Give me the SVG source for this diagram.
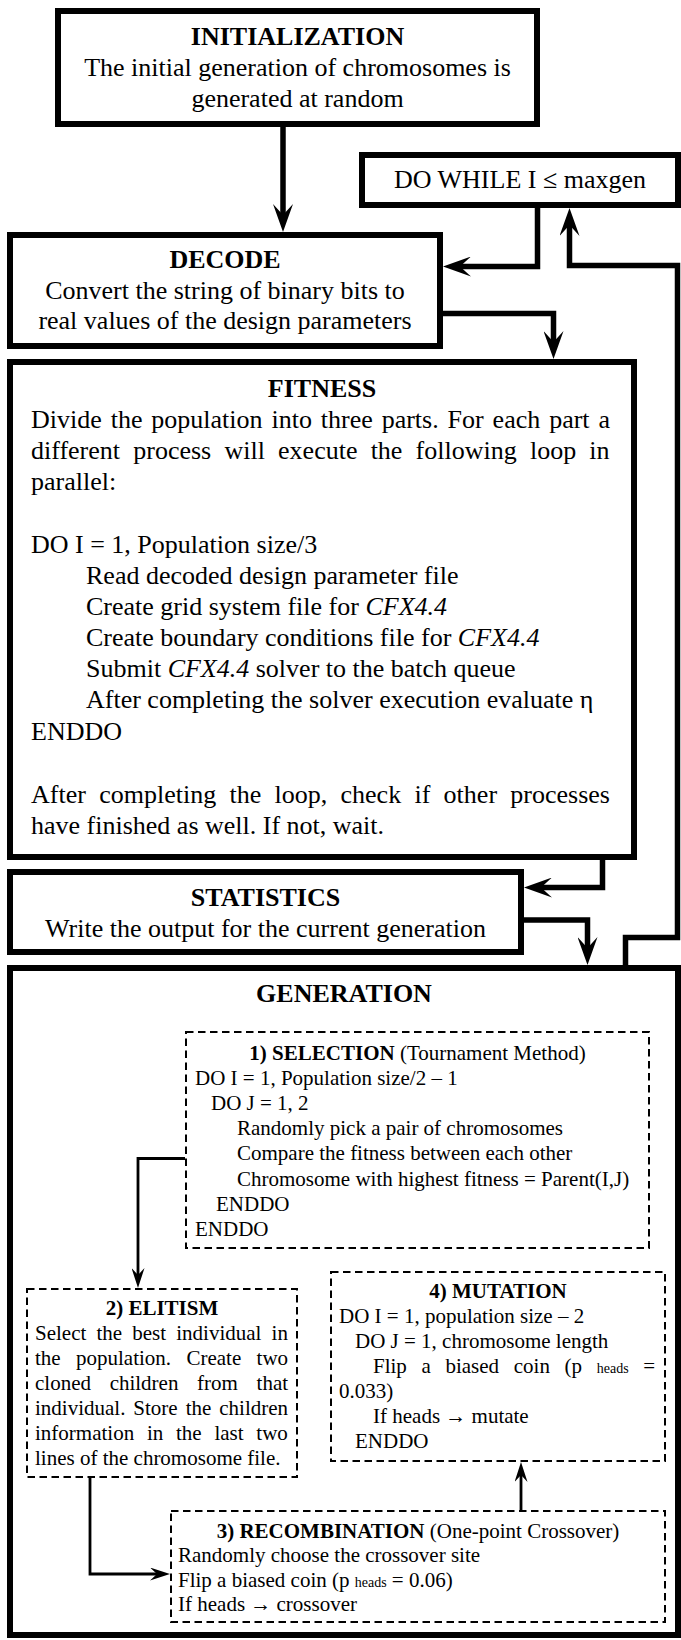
<svg xmlns="http://www.w3.org/2000/svg" width="681" height="1640" viewBox="0 0 681 1640">
  <style>
    .box { fill: #fff; stroke: #000; stroke-width: 6; }
    .dash { fill: #fff; stroke: #000; stroke-width: 2; stroke-dasharray: 7.5 4.5; }
    .wire { fill: none; stroke: #000; stroke-width: 5.5; stroke-linejoin: miter; }
    .thin { fill: none; stroke: #000; stroke-width: 2.8; stroke-linejoin: miter; }
    text { font-family: "Liberation Serif", "Times New Roman", serif; font-size: 26px; fill: #000; }
    .s { font-size: 21px; }
    .sub { font-size: 14px; }
    .b { font-weight: bold; }
    .c { text-anchor: middle; }
    .i { font-style: italic; }
  </style>
  <defs>
    <!-- heavy arrowhead for the main flow -->
    <marker id="ah" viewBox="0 0 28 20" refX="18" refY="10" markerWidth="28" markerHeight="20" markerUnits="userSpaceOnUse" orient="auto">
      <path d="M0,0 L28,10 L0,20 L11,10 Z" fill="#000"/>
    </marker>
    <!-- light arrowhead for the inner generation steps -->
    <marker id="ahs" viewBox="0 0 20 13" refX="13" refY="6.5" markerWidth="20" markerHeight="13" markerUnits="userSpaceOnUse" orient="auto">
      <path d="M0,0 L20,6.5 L0,13 L7,6.5 Z" fill="#000"/>
    </marker>
    <clipPath id="clipDecode"><rect x="10" y="235" width="430" height="99"/></clipPath>
    <clipPath id="clipStats"><rect x="10" y="872" width="511" height="70"/></clipPath>
  </defs>

  <!-- connectors -->
  <g id="connectors">
    <path class="wire" d="M283,127 V222" marker-end="url(#ah)"/>
    <path class="wire" d="M537.5,208 V266.5 H453" marker-end="url(#ah)"/>
    <path class="wire" d="M625.5,965 V937.5 H677.5 V265.5 H569.5 V218" marker-end="url(#ah)"/>
    <path class="wire" d="M443,313.5 H553.5 V349" marker-end="url(#ah)"/>
    <path class="wire" d="M602.5,860 V887.5 H534" marker-end="url(#ah)"/>
    <path class="wire" d="M524,920 H587.5 V955" marker-end="url(#ah)"/>
  </g>

  <g id="initialization">
    <rect class="box" x="58" y="11" width="479" height="113"/>
    <text class="b c" x="297.5" y="45">INITIALIZATION</text>
    <text class="c" x="297.5" y="76">The initial generation of chromosomes is</text>
    <text class="c" x="297.5" y="107">generated at random</text>
  </g>

  <g id="do-while">
    <rect class="box" x="362" y="155" width="316" height="50"/>
    <text class="c" x="520" y="188">DO WHILE I ≤ maxgen</text>
  </g>

  <g id="decode">
    <rect class="box" x="10" y="235" width="430" height="111"/>
    <text class="b c" x="225" y="268">DECODE</text>
    <text class="c" x="225" y="299">Convert the string of binary bits to</text>
    <text class="c" x="225" y="329" clip-path="url(#clipDecode)">real values of the design parameters</text>
  </g>

  <g id="fitness">
    <rect class="box" x="10" y="362" width="624" height="495"/>
    <text class="b c" x="322" y="397">FITNESS</text>
    <text x="31" y="428" style="word-spacing:2.4px">Divide the population into three parts. For each part a</text>
    <text x="31" y="459" style="word-spacing:6.7px">different process will execute the following loop in</text>
    <text x="31" y="490">parallel:</text>
    <text x="31" y="553">DO I = 1, Population size/3</text>
    <text x="86" y="584">Read decoded design parameter file</text>
    <text x="86" y="615">Create grid system file for <tspan class="i">CFX4.4</tspan></text>
    <text x="86" y="646">Create boundary conditions file for <tspan class="i">CFX4.4</tspan></text>
    <text x="86" y="677">Submit <tspan class="i">CFX4.4</tspan> solver to the batch queue</text>
    <text x="86" y="708">After completing the solver execution evaluate η</text>
    <text x="31" y="740">ENDDO</text>
    <text x="31" y="803" style="word-spacing:6.8px">After completing the loop, check if other processes</text>
    <text x="31" y="834">have finished as well. If not, wait.</text>
  </g>

  <g id="statistics">
    <rect class="box" x="10" y="872" width="511" height="80"/>
    <text class="b c" x="265.5" y="906">STATISTICS</text>
    <text class="c" x="265.5" y="937" clip-path="url(#clipStats)">Write the output for the current generation</text>
  </g>

  <g id="generation">
    <rect class="box" x="10" y="968" width="668" height="667"/>
    <text class="b c" x="344" y="1002">GENERATION</text>
  </g>

  <g id="generation-steps">
    <path class="thin" d="M185,1158.5 H138 V1281" marker-end="url(#ahs)"/>
    <path class="thin" d="M90,1478 V1574 H163" marker-end="url(#ahs)"/>
    <path class="thin" d="M521,1510 V1469" marker-end="url(#ahs)"/>
  </g>

  <g id="selection">
    <rect class="dash" x="186" y="1032" width="463" height="216"/>
    <text class="s c" x="417.5" y="1060"><tspan class="b">1) SELECTION</tspan> (Tournament Method)</text>
    <text class="s" x="195" y="1085">DO I = 1, Population size/2 – 1</text>
    <text class="s" x="211" y="1110">DO J = 1, 2</text>
    <text class="s" x="237" y="1135">Randomly pick a pair of chromosomes</text>
    <text class="s" x="237" y="1160">Compare the fitness between each other</text>
    <text class="s" x="237" y="1186">Chromosome with highest fitness = Parent(I,J)</text>
    <text class="s" x="216" y="1211">ENDDO</text>
    <text class="s" x="195" y="1236">ENDDO</text>
  </g>

  <g id="elitism">
    <rect class="dash" x="27" y="1289" width="270" height="188"/>
    <text class="s b c" x="162" y="1315">2) ELITISM</text>
    <text class="s" x="35" y="1340" style="word-spacing:4.9px">Select the best individual in</text>
    <text class="s" x="35" y="1365" style="word-spacing:10.1px">the population. Create two</text>
    <text class="s" x="35" y="1390" style="word-spacing:13.4px">cloned children from that</text>
    <text class="s" x="35" y="1415" style="word-spacing:2.7px">individual. Store the children</text>
    <text class="s" x="35" y="1440" style="word-spacing:7.5px">information in the last two</text>
    <text class="s" x="35" y="1465">lines of the chromosome file.</text>
  </g>

  <g id="mutation">
    <rect class="dash" x="331" y="1272" width="334" height="189"/>
    <text class="s b c" x="498" y="1298">4) MUTATION</text>
    <text class="s" x="339" y="1323">DO I = 1, population size – 2</text>
    <text class="s" x="355" y="1348">DO J = 1, chromosome length</text>
    <text class="s" x="373" y="1373" style="word-spacing:9.4px">Flip a biased coin (p <tspan class="sub">heads</tspan> =</text>
    <text class="s" x="339" y="1398">0.033)</text>
    <text class="s" x="373" y="1423">If heads → mutate</text>
    <text class="s" x="355" y="1448">ENDDO</text>
  </g>

  <g id="recombination">
    <rect class="dash" x="171" y="1511" width="494" height="111"/>
    <text class="s c" x="418" y="1538"><tspan class="b">3) RECOMBINATION</tspan> (One-point Crossover)</text>
    <text class="s" x="178" y="1562">Randomly choose the crossover site</text>
    <text class="s" x="178" y="1587">Flip a biased coin (p <tspan class="sub">heads</tspan> = 0.06)</text>
    <text class="s" x="178" y="1611">If heads → crossover</text>
  </g>
</svg>
